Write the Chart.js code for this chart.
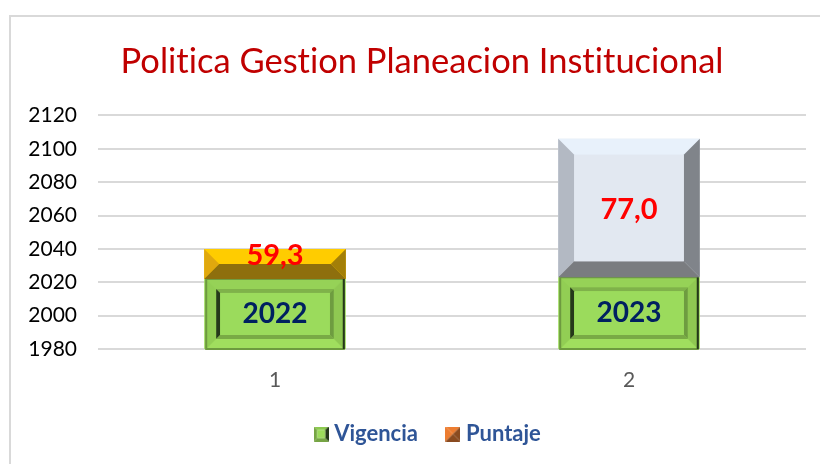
<!DOCTYPE html>
<html>
<head>
<meta charset="utf-8">
<style>
  html, body { margin: 0; padding: 0; background: #fff; }
  canvas { display: block; }
</style>
<script src="https://cdn.jsdelivr.net/npm/chart.js@4"></script>
</head>
<body>
<canvas id="myChart" width="820" height="464"></canvas>
<script>
const categories = ['1', '2'];
const vigencia = [2022, 2023];
// bar heights as drawn in the picture, they do not follow the printed scores
const puntaje = [18, 83];
const puntajeLabels = ['59,3', '77,0'];
const vigenciaLabels = ['2022', '2023'];
const yTicks = [1980, 2000, 2020, 2040, 2060, 2080, 2100, 2120];

const FONT = 'Lato, Carlito, sans-serif';

const goldBevel = { face: '#FFCC00', top: '#FFCC00', left: '#E0A80E', right: '#A37F08', bottom: '#8E6F0D' };
const greyBevel = { face: '#E2E8F1', top: '#E8F1FB', left: '#B3B9C3', right: '#80848A', bottom: '#7A7C80' };
const greenOuter = { face: '#9CDB5A', top: '#96D257', left: '#92CE54', right: '#8FC852', bottom: '#A0DE5E' };
const greenInner = { face: '#9BDB5C', top: '#7FB24A', left: '#25381A', right: '#6E9C40', bottom: '#79AA45' };

function poly(ctx, color, pts) {
  ctx.fillStyle = color;
  ctx.beginPath();
  pts.forEach((p, i) => i ? ctx.lineTo(p[0], p[1]) : ctx.moveTo(p[0], p[1]));
  ctx.closePath();
  ctx.fill();
}

function bevel(ctx, x0, y0, x1, y1, size, c) {
  const b = Math.min(size, (y1 - y0) / 2, (x1 - x0) / 2);
  poly(ctx, c.top, [[x0, y0], [x1, y0], [x1 - b, y0 + b], [x0 + b, y0 + b]]);
  poly(ctx, c.left, [[x0, y0], [x0 + b, y0 + b], [x0 + b, y1 - b], [x0, y1]]);
  poly(ctx, c.right, [[x1, y0], [x1 - b, y0 + b], [x1 - b, y1 - b], [x1, y1]]);
  poly(ctx, c.bottom, [[x0, y1], [x0 + b, y1 - b], [x1 - b, y1 - b], [x1, y1]]);
  ctx.fillStyle = c.face;
  ctx.fillRect(x0 + b, y0 + b, x1 - x0 - 2 * b, y1 - y0 - 2 * b);
}

function legendIcon(c) {
  const cv = document.createElement('canvas');
  cv.width = 15;
  cv.height = 15;
  bevel(cv.getContext('2d'), 0, 0, 15, 15, c.size, c);
  return cv;
}

const greenIcon = legendIcon({ size: 3.5, face: '#9CDB5A', top: '#8CC94F', left: '#76A544', right: '#25381A', bottom: '#76A544' });
const orangeIcon = legendIcon({ size: 7.5, face: '#ED7D31', top: '#ED7D31', left: '#ED7D31', right: '#8A4B20', bottom: '#8A4B20' });

// frame of the chart, only the left and top edges fit in the window
const framePlugin = {
  id: 'frame',
  afterLayout(chart) {
    // y labels are clipped to the axis box, so let the box reach the left edge
    chart.scales.y.left = 0;
    chart.legend.left += 8;
    chart.legend.right += 8;
  },
  beforeDraw(chart) {
    const ctx = chart.ctx;
    ctx.textRendering = 'optimizeSpeed'; // no "ti" ligature in the title
    ctx.fillStyle = '#D9D9D9';
    ctx.fillRect(9, 15, 811, 2);
    ctx.fillRect(9, 15, 2, 449);
  }
};

// paints the bevels and the labels on top of the library's bars
const bevelPlugin = {
  id: 'bevel',
  afterDatasetsDraw(chart) {
    const ctx = chart.ctx;
    const area = chart.chartArea;
    const greenBars = chart.getDatasetMeta(0).data;
    const scoreBars = chart.getDatasetMeta(1).data;

    greenBars.forEach((bar, i) => {
      const x0 = bar.x - bar.width / 2 + 2;
      const x1 = bar.x + bar.width / 2 - 2;
      const y0 = bar.y;
      const y1 = Math.min(bar.base, area.bottom);
      bevel(ctx, x0, y0, x1, y1, 10, greenOuter);
      bevel(ctx, x0 + 10, y0 + 10, x1 - 10, y1 - 10, 4, greenInner);
      ctx.strokeStyle = '#6D9A3F';
      ctx.lineWidth = 2;
      ctx.strokeRect(x0, y0, x1 - x0, y1 - y0);
      ctx.fillStyle = '#25381A';
      ctx.fillRect(x1 - 1, y0, 2, y1 - y0);
      ctx.fillStyle = '#002060';
      ctx.font = 'bold 28px ' + FONT;
      ctx.textAlign = 'center';
      ctx.textBaseline = 'middle';
      ctx.fillText(vigenciaLabels[i], bar.x, (y0 + y1) / 2);
    });

    scoreBars.forEach((bar, i) => {
      const style = i === 0 ? goldBevel : greyBevel;
      bevel(ctx, bar.x - bar.width / 2, bar.y, bar.x + bar.width / 2, bar.base, 16, style);
    });
    scoreBars.forEach((bar, i) => {
      ctx.fillStyle = '#FF0000';
      ctx.font = 'bold 29px ' + FONT;
      ctx.textAlign = 'center';
      ctx.textBaseline = 'middle';
      const mid = (bar.y + bar.base) / 2;
      ctx.fillText(puntajeLabels[i], bar.x, i === 0 ? mid - 8 : mid + 2);
    });
  }
};

new Chart(document.getElementById('myChart').getContext('2d'), {
  type: 'bar',
  data: {
    labels: categories,
    datasets: [
      { label: 'Vigencia', data: vigencia, backgroundColor: '#9CDB5A', icon: greenIcon },
      { label: 'Puntaje', data: puntaje, backgroundColor: ['#FFCC00', '#E2E8F1'], icon: orangeIcon }
    ]
  },
  options: {
    responsive: false,
    animation: false,
    layout: { padding: { top: 41, right: 14, bottom: 9, left: 38 } },
    datasets: { bar: { categoryPercentage: 1, barPercentage: 0.4 } },
    scales: {
      x: {
        stacked: true,
        grid: { display: false },
        border: { display: false },
        afterFit(axis) { axis.height = 41; },
        ticks: { color: '#595959', font: { family: FONT, size: 21 }, padding: 11 }
      },
      y: {
        stacked: true,
        min: yTicks[0],
        max: yTicks[yTicks.length - 1],
        afterBuildTicks(axis) { axis.ticks = yTicks.map(v => ({ value: v })); },
        afterFit(axis) { axis.width = 60; },
        grid: { color: '#D9D9D9', lineWidth: 2, drawTicks: false },
        border: { display: false },
        ticks: {
          color: '#000000',
          font: { family: FONT, size: 21 },
          padding: 21,
          callback: v => String(v)
        }
      }
    },
    plugins: {
      title: {
        display: true,
        text: 'Politica Gestion Planeacion Institucional',
        color: '#C00000',
        font: { family: FONT, size: 34.5, weight: 'normal' },
        padding: { top: 0, bottom: 33 }
      },
      legend: {
        position: 'bottom',
        labels: {
          color: '#2F5597',
          font: { family: FONT, size: 22, weight: 'bold' },
          usePointStyle: true,
          pointStyleWidth: 4,
          padding: 33,
          generateLabels(chart) {
            return chart.data.datasets.map((d, i) => ({
              text: d.label,
              fontColor: '#2F5597',
              pointStyle: d.icon,
              datasetIndex: i,
              lineWidth: 0
            }));
          }
        }
      },
      tooltip: { enabled: false }
    }
  },
  plugins: [framePlugin, bevelPlugin]
});
</script>
</body>
</html>
